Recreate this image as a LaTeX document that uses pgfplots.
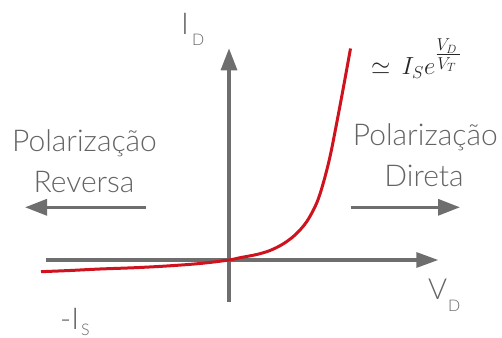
\documentclass[border=0pt]{standalone}
\usepackage{fontspec}
\setmainfont{Lato Light}
\usepackage{pgfplots}
\pgfplotsset{compat=1.18}
\usetikzlibrary{arrows.meta}

\definecolor{axgray}{RGB}{110,110,110}
\definecolor{txtgray}{RGB}{100,100,100}
\definecolor{curvered}{RGB}{206,18,30}

\newcommand{\fs}[1]{\fontsize{#1bp}{#1bp}\selectfont}

\begin{document}
\begin{tikzpicture}
\useasboundingbox (0,0) rectangle (502bp,338bp);
\begin{axis}[
    scale only axis,
    width=502bp, height=338bp,
    xmin=0, xmax=502, ymin=0, ymax=338,
    hide axis, clip=false
]
% axes with arrows
\draw[axgray, line width=3.3bp, -{Triangle[length=22bp,width=16bp]}]
    (axis cs:229,36.3) -- (axis cs:229,289.7);
\draw[axgray, line width=3.3bp, -{Triangle[length=22bp,width=15bp]}]
    (axis cs:45.7,78) -- (axis cs:438.3,78);
% direction arrows
\draw[axgray, line width=3.3bp, -{Triangle[length=22bp,width=16bp]}]
    (axis cs:145.7,130.7) -- (axis cs:25,130.7);
\draw[axgray, line width=3.3bp, -{Triangle[length=22bp,width=16bp]}]
    (axis cs:350.7,130.7) -- (axis cs:460,130.7);

% diode curve
\addplot[curvered, line width=3bp, smooth, tension=0.55] coordinates {
    (41,66.3) (70,67.5) (100,69) (135,70.3) (166.7,72) (200,74.5)
    (229,78) (240,80.3) (256.7,83.5) (270,87.5) (283,94) (295,103)
    (306.7,116.3) (316.7,135) (323.3,155) (330,181.3) (336.7,215)
    (343.3,250) (350.5,289.5)
};

% labels
\node[txtgray, anchor=base, font=\fs{30}] at (axis cs:84.5,186.3) {Polarização};
\node[txtgray, anchor=base, font=\fs{30}] at (axis cs:84,145.3) {Reversa};
\node[txtgray, anchor=base, font=\fs{30}] at (axis cs:425.3,192.3) {Polarização};
\node[txtgray, anchor=base, font=\fs{30}] at (axis cs:424,151.3) {Direta};

\node[txtgray, anchor=base west, inner sep=0pt, font=\fs{30}] at (axis cs:181,303.7)
    {I\hspace{3bp}\raisebox{-11.4bp}{\fs{16}D}};
\node[txtgray, anchor=base west, inner sep=0pt, font=\fs{29}] at (axis cs:428,38)
    {V\hspace{1bp}\raisebox{-11.7bp}{\fs{16}D}};
\node[txtgray, anchor=base west, inner sep=0pt, font=\fs{30}] at (axis cs:60,9)
    {-I\hspace{2bp}\raisebox{-6.5bp}{\fs{16}S}};

\node[black!85, anchor=base west, inner sep=0pt, font=\fs{23}] at (axis cs:371,263.5)
    {$\simeq\, I_S e^{\textstyle\frac{V_D\,}{V_T\,}}$};
\end{axis}
\end{tikzpicture}
\end{document}
